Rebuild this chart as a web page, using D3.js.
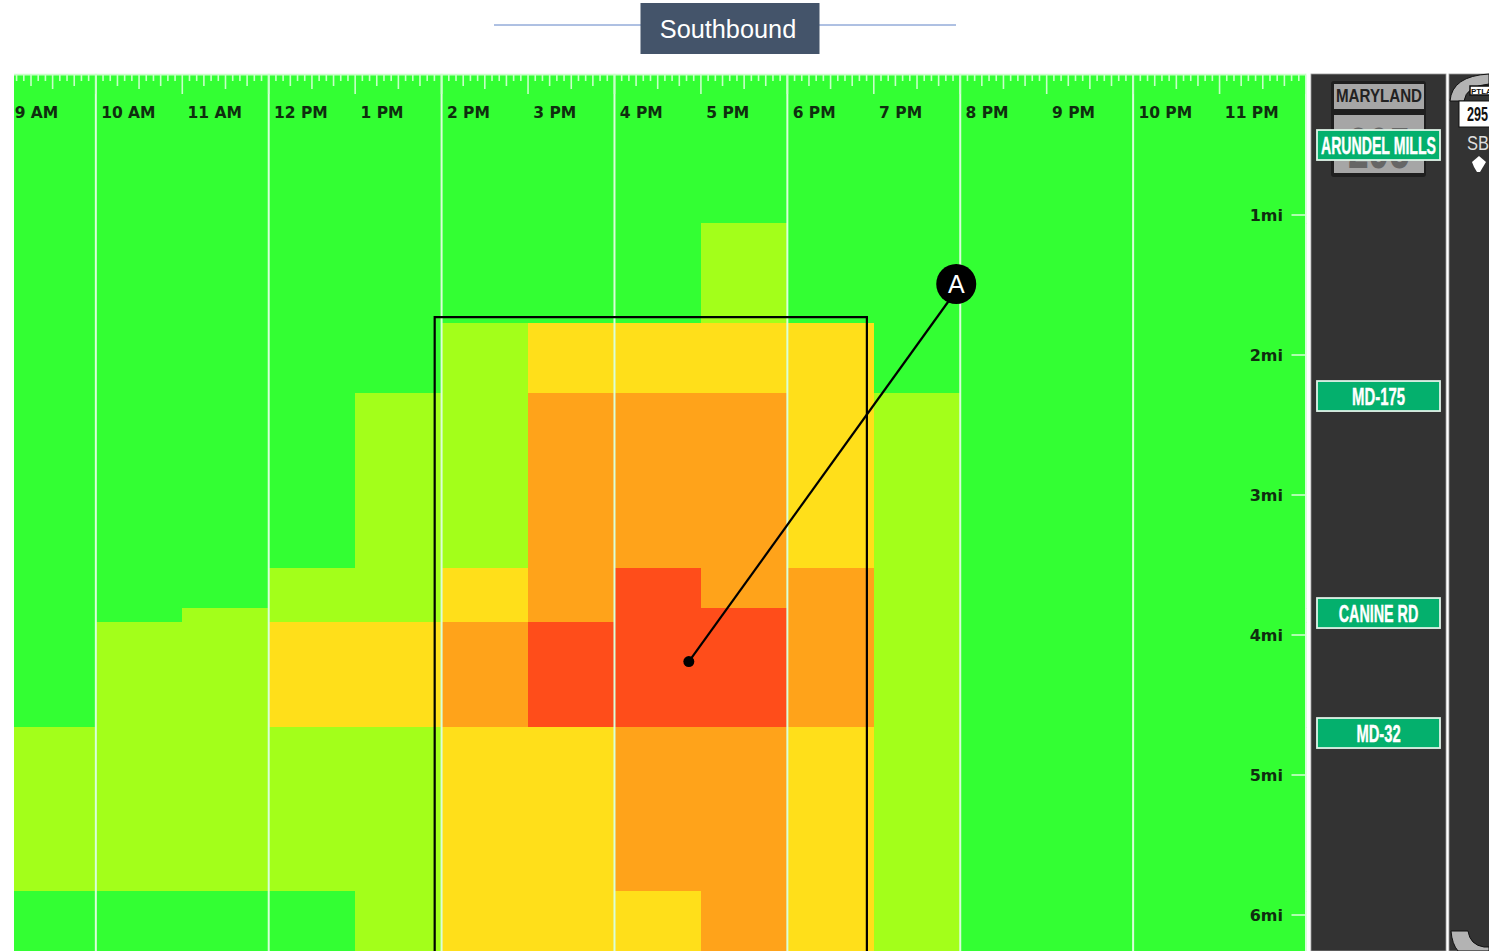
<!DOCTYPE html>
<html>
<head>
<meta charset="utf-8">
<script src="https://cdn.jsdelivr.net/npm/d3@7"></script>
<style>
html, body { margin: 0; padding: 0; background: #fff; overflow: hidden; }
svg { display: block; }
.ruler text, .miles text { font-family: "DejaVu Sans", sans-serif; font-weight: bold; }
.sign text { font-family: "Liberation Sans Narrow", "Liberation Sans", sans-serif; font-weight: bold; fill: #fff; }
</style>
</head>
<body>
<svg id="chart" width="1489" height="951"></svg>
<script>
'use strict';
// congestion level colors, low to high
const levelColors = ["#33ff33", "#a3ff1a", "#ffdf1a", "#ffa31a", "#ff4d1a"];

// one column per hour of the day
const hours = [9, 10, 11, 12, 13, 14, 15, 16, 17, 18, 19, 20, 21, 22, 23];
const hourLabels = ["9 AM", "10 AM", "11 AM", "12 PM", "1 PM", "2 PM", "3 PM", "4 PM", "5 PM", "6 PM", "7 PM", "8 PM", "9 PM", "10 PM", "11 PM"];

// road segments, miles where each one starts and ends
const segmentStart = [0, 1.06, 1.77, 2.27, 3.52, 3.81, 3.91, 4.66, 5.83];
const segmentEnd = [1.06, 1.77, 2.27, 3.52, 3.81, 3.91, 4.66, 5.83, 6.3];

// level per hour, one list per segment
const seg0 = [0, 0, 0, 0, 0, 0, 0, 0, 0, 0, 0, 0, 0, 0, 0];
const seg1 = [0, 0, 0, 0, 0, 0, 0, 0, 1, 0, 0, 0, 0, 0, 0];
const seg2 = [0, 0, 0, 0, 0, 1, 2, 2, 2, 2, 0, 0, 0, 0, 0];
const seg3 = [0, 0, 0, 0, 1, 1, 3, 3, 3, 2, 1, 0, 0, 0, 0];
const seg4 = [0, 0, 0, 1, 1, 2, 3, 4, 3, 3, 1, 0, 0, 0, 0];
const seg5 = [0, 0, 1, 1, 1, 2, 3, 4, 4, 3, 1, 0, 0, 0, 0];
const seg6 = [0, 1, 1, 2, 2, 3, 4, 4, 4, 3, 1, 0, 0, 0, 0];
const seg7 = [1, 1, 1, 1, 1, 2, 2, 3, 3, 2, 1, 0, 0, 0, 0];
const seg8 = [0, 0, 0, 0, 1, 2, 2, 2, 3, 2, 1, 0, 0, 0, 0];
const segments = [seg0, seg1, seg2, seg3, seg4, seg5, seg6, seg7, seg8];

const mileTicks = [1, 2, 3, 4, 5, 6];
const exitNames = ["ARUNDEL MILLS", "MD-175", "CANINE RD", "MD-32"];
const exitMiles = [0.393, 2.186, 3.736, 4.593];

// the peak window and the note on it
const boxHours = [13.92, 18.92];
const boxMile = 1.73;
const noteFrom = [16.86, 4.19];
const noteTo = [20, 1.5];

const svg = d3.select("#chart");

const x = d3.scaleLinear().domain([9, 24]).range([9.4, 1306]);
const y = d3.scaleLinear().domain([0, 6]).range([75, 915]);

const plotLeft = 14, plotRight = 1306.5, plotTop = 73.5, plotBottom = 951;

svg.append("defs").append("clipPath").attr("id", "plotClip")
	.append("rect")
	.attr("x", plotLeft).attr("y", plotTop)
	.attr("width", plotRight - plotLeft).attr("height", plotBottom - plotTop);

// title band
const title = svg.append("g");
title.append("line")
	.attr("x1", 494).attr("x2", 956).attr("y1", 25).attr("y2", 25)
	.attr("stroke", "#5f82c6").attr("stroke-width", 1);
title.append("rect")
	.attr("x", 640.5).attr("y", 3).attr("width", 179).attr("height", 51)
	.attr("fill", "#44546a");
title.append("text")
	.attr("x", 728).attr("y", 38)
	.attr("text-anchor", "middle")
	.attr("font-family", "Liberation Sans, sans-serif")
	.attr("font-size", 25.3).attr("fill", "#fff")
	.text("Southbound");

// heat cells
const plot = svg.append("g").attr("clip-path", "url(#plotClip)");
segments.forEach((levels, s) => {
	plot.append("g").selectAll("rect")
		.data(levels)
		.join("rect")
		.attr("x", (d, i) => x(hours[i]))
		.attr("y", y(segmentStart[s]))
		.attr("width", (d, i) => x(hours[i] + 1) - x(hours[i]) + 0.5)
		.attr("height", y(segmentEnd[s]) - y(segmentStart[s]) + 0.5)
		.attr("fill", d => levelColors[d])
		.attr("shape-rendering", "crispEdges");
});

// two hour grid lines
plot.append("g").selectAll("line")
	.data(d3.range(10, 25, 2))
	.join("line")
	.attr("x1", d => x(d)).attr("x2", d => x(d))
	.attr("y1", plotTop).attr("y2", plotBottom)
	.attr("stroke", "#d9ffd9").attr("stroke-width", 2);

// ruler along the top, 5 minute steps
const ruler = plot.append("g").attr("class", "ruler");
ruler.append("line")
	.attr("x1", plotLeft).attr("x2", plotRight).attr("y1", 74.5).attr("y2", 74.5)
	.attr("stroke", "#c8ffc8").attr("stroke-width", 2);
ruler.selectAll("line.tick")
	.data(d3.range(9 * 12, 24 * 12 + 1))
	.join("line")
	.attr("class", "tick")
	.attr("x1", d => x(d / 12)).attr("x2", d => x(d / 12))
	.attr("y1", 74)
	.attr("y2", d => d % 12 == 0 ? 94 : (d % 6 == 0 ? 89 : (d % 3 == 0 ? 86 : 81)))
	.attr("stroke", "#c8ffc8").attr("stroke-width", 1.6);
ruler.selectAll("text")
	.data(hourLabels)
	.join("text")
	.attr("x", (d, i) => x(hours[i]) + 5.3)
	.attr("y", 118)
	.attr("font-size", 15.5)
	.attr("fill", "#0f2e0f")
	.text(d => d);

// mile marks on the right side
const miles = plot.append("g").attr("class", "miles");
miles.selectAll("line")
	.data(mileTicks)
	.join("line")
	.attr("x1", plotRight - 15).attr("x2", plotRight)
	.attr("y1", d => y(d)).attr("y2", d => y(d))
	.attr("stroke", "#d9ffd9").attr("stroke-width", 1.5);
miles.selectAll("text")
	.data(mileTicks)
	.join("text")
	.attr("x", 1283).attr("y", d => y(d) + 5.5)
	.attr("text-anchor", "end")
	.attr("font-size", 16)
	.attr("fill", "#0f2e0f")
	.text(d => d + "mi");

// highlighted window, open at the bottom
svg.append("path")
	.attr("d", d3.line()([
		[x(boxHours[0]), plotBottom],
		[x(boxHours[0]), y(boxMile)],
		[x(boxHours[1]), y(boxMile)],
		[x(boxHours[1]), plotBottom]
	]))
	.attr("fill", "none").attr("stroke", "#000").attr("stroke-width", 2.2);

// note A
svg.append("line")
	.attr("x1", x(noteFrom[0])).attr("y1", y(noteFrom[1]))
	.attr("x2", x(noteTo[0])).attr("y2", y(noteTo[1]))
	.attr("stroke", "#000").attr("stroke-width", 2.2);
svg.append("circle")
	.attr("cx", x(noteFrom[0])).attr("cy", y(noteFrom[1])).attr("r", 5.5).attr("fill", "#000");
svg.append("circle")
	.attr("cx", x(noteTo[0]) - 4).attr("cy", y(noteTo[1]) - 1).attr("r", 20).attr("fill", "#000");
svg.append("text")
	.attr("x", x(noteTo[0]) - 4).attr("y", y(noteTo[1]) + 8)
	.attr("text-anchor", "middle")
	.attr("font-family", "Liberation Sans, sans-serif")
	.attr("font-size", 25).attr("fill", "#fff")
	.text("A");

// road panel
const road = svg.append("g");
road.append("rect").attr("x", 1306.5).attr("y", 74).attr("width", 4.5).attr("height", 877).attr("fill", "#fff");
road.append("rect").attr("x", 1311).attr("y", 74).attr("width", 135).attr("height", 877).attr("fill", "#333").attr("stroke", "#999").attr("stroke-width", 0.8);
road.append("rect").attr("x", 1449).attr("y", 74).attr("width", 41).attr("height", 877).attr("fill", "#333").attr("stroke", "#999").attr("stroke-width", 0.8);

// Maryland shield
const shield = road.append("g");
shield.append("rect").attr("x", 1331).attr("y", 81).attr("width", 95).attr("height", 96).attr("rx", 3).attr("fill", "#1f1f1f");
shield.append("rect").attr("x", 1334).attr("y", 84).attr("width", 90).attr("height", 25).attr("fill", "#a6a6a6");
shield.append("rect").attr("x", 1334).attr("y", 115).attr("width", 90).attr("height", 58).attr("fill", "#a6a6a6");
shield.append("text")
	.attr("x", 1379).attr("y", 102)
	.attr("text-anchor", "middle")
	.attr("font-family", "Liberation Sans Narrow, sans-serif")
	.attr("font-weight", "bold")
	.attr("font-size", 18).attr("fill", "#222")
	.attr("textLength", 86).attr("lengthAdjust", "spacingAndGlyphs")
	.text("MARYLAND");
shield.append("text")
	.attr("x", 1379).attr("y", 168)
	.attr("text-anchor", "middle")
	.attr("font-family", "Liberation Sans Narrow, sans-serif")
	.attr("font-weight", "bold")
	.attr("font-size", 58).attr("fill", "#666")
	.attr("textLength", 62).attr("lengthAdjust", "spacingAndGlyphs")
	.text("295");

// exit signs
const signs = road.append("g").selectAll("g")
	.data(exitNames)
	.join("g")
	.attr("class", "sign");
signs.append("rect")
	.attr("x", 1317).attr("width", 123).attr("height", 30)
	.attr("y", (d, i) => y(exitMiles[i]))
	.attr("fill", "#04b06d").attr("stroke", "#dff3e8").attr("stroke-width", 1.8);
signs.append("text")
	.attr("x", 1378.5)
	.attr("y", (d, i) => y(exitMiles[i]) + 23.5)
	.attr("text-anchor", "middle")
	.attr("font-size", 23.5)
	.attr("stroke", "#fff").attr("stroke-width", 0.4)
	.attr("textLength", d => d.length * 8.85)
	.attr("lengthAdjust", "spacingAndGlyphs")
	.text(d => d);

// next road shield, cut off by the window
const next = road.append("g");
next.append("path").attr("d", "M1450 101 Q1452 76 1489 74 L1489 84 Q1466 86 1464 101 Z").attr("fill", "#b3b3b3").attr("stroke", "#111").attr("stroke-width", 1);
next.append("rect").attr("x", 1470).attr("y", 86).attr("width", 22).attr("height", 9).attr("fill", "#fff").attr("stroke", "#111").attr("stroke-width", 1.5);
next.append("text")
	.attr("x", 1471).attr("y", 94)
	.attr("font-family", "Liberation Sans Narrow, sans-serif")
	.attr("font-weight", "bold")
	.attr("font-size", 8).attr("fill", "#111")
	.text("PTLA");
next.append("rect").attr("x", 1459).attr("y", 101).attr("width", 40).attr("height", 26).attr("fill", "#fff").attr("stroke", "#111");
next.append("text")
	.attr("x", 1467).attr("y", 121)
	.attr("font-family", "Liberation Sans Narrow, sans-serif")
	.attr("font-weight", "bold")
	.attr("font-size", 21).attr("fill", "#111")
	.attr("textLength", 21).attr("lengthAdjust", "spacingAndGlyphs")
	.text("295");
next.append("text")
	.attr("x", 1467).attr("y", 150)
	.attr("font-family", "Liberation Sans, sans-serif")
	.attr("font-size", 20).attr("fill", "#ddd")
	.attr("textLength", 22).attr("lengthAdjust", "spacingAndGlyphs")
	.text("SB");
next.append("path").attr("d", "M1479 156 L1486 162 L1483 167 L1480 172 L1477 172 L1474 167 L1472 162 Z").attr("fill", "#fff");
next.append("path").attr("d", "M1451 931 L1468 931 Q1470 945 1484 947 L1489 947 L1489 951 L1458 951 Q1452 944 1451 931 Z").attr("fill", "#b3b3b3").attr("stroke", "#111").attr("stroke-width", 1);
</script>
</body>
</html>
